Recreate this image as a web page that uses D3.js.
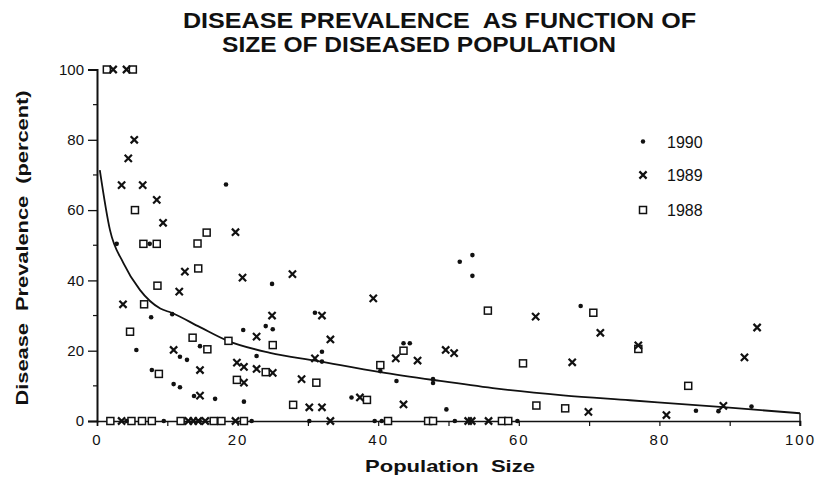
<!DOCTYPE html>
<html>
<head>
<meta charset="utf-8">
<script src="https://cdn.jsdelivr.net/npm/d3@7"></script>
<style>
  body { margin: 0; background: #fff; }
  svg text { fill: #111; }
</style>
</head>
<body>
<svg id="chart" width="822" height="480"></svg>
<script>
// ---- data -------------------------------------------------------------
// 1990 survey (dots)
const s1990X = [18.35, 2.8, 7.5, 7.7, 10.7, 20.8, 24.0, 25.0, 24.9, 5.6, 11.8, 12.8, 14.65, 22.7,
  7.8, 10.9, 11.8, 13.8, 16.8, 20.9, 31.0, 32.0, 32.0, 36.2, 40.3, 42.6, 43.6, 44.5, 47.8, 47.8,
  49.7, 51.6, 53.4, 53.4, 68.8, 85.2, 88.4, 93.1,
  4.2, 9.5, 14.6, 22.0, 30.2, 39.5, 40.5, 50.9, 59.8];
const s1990Y = [67.3, 50.4, 50.4, 29.5, 30.4, 25.9, 27.0, 26.1, 39.0, 20.2, 18.3, 17.4, 21.3, 18.5,
  14.5, 10.5, 9.6, 7.1, 6.3, 5.5, 30.8, 19.7, 16.9, 6.7, 14.2, 11.4, 22.1, 22.1, 11.9, 10.8,
  3.3, 45.3, 47.2, 41.3, 32.7, 2.9, 2.8, 4.1,
  0, 0, 0, 0, 0, 0, 0, 0, 0];

// 1989 survey (crosses)
const s1989X = [2.3, 4.2, 5.3, 4.45, 3.5, 6.5, 8.5, 9.4, 19.7, 12.5, 20.7, 11.7, 3.7,
  10.9, 22.7, 14.65, 19.9, 20.9, 22.7, 20.9, 14.65, 27.8, 39.3,
  24.9, 32.0, 33.2, 31.0, 25.0, 29.1, 30.2, 32.0, 37.4, 42.5, 45.6, 43.6,
  62.4, 71.6, 49.6, 50.8, 67.6, 69.9, 77.0, 93.9, 92.1, 89.1, 81.0,
  3.5, 13.0, 13.7, 14.4, 15.4, 19.7, 33.2, 52.8, 53.3, 55.7];
const s1989Y = [100, 100, 80, 74.7, 67.1, 67.1, 62.9, 56.4, 53.7, 42.5, 40.8, 36.8, 33.2,
  20.2, 24.0, 14.5, 16.6, 15.4, 14.8, 10.9, 7.2, 41.8, 34.9,
  30.0, 30.0, 23.2, 17.8, 13.7, 11.9, 3.9, 3.9, 6.7, 17.8, 17.2, 4.7,
  29.7, 25.1, 20.2, 19.3, 16.7, 2.6, 21.5, 26.6, 18.1, 4.3, 1.7,
  0, 0, 0, 0, 0, 0, 0, 0, 0, 0];

// 1988 survey (squares)
const s1988X = [1.4, 5.1, 5.4, 15.6, 6.6, 8.5, 14.3, 14.4, 8.6, 6.7,
  4.7, 13.6, 15.7, 18.7, 25.0, 8.8, 24.0, 19.9,
  31.2, 27.9, 38.4, 40.3, 43.6, 55.6, 70.6, 60.6, 62.5, 66.6, 77.0, 84.1,
  1.9, 4.9, 6.4, 7.8, 11.9, 16.6, 17.7, 20.9, 41.4, 47.1, 47.8, 57.6, 58.5];
const s1988Y = [100, 100, 60, 53.6, 50.4, 50.4, 50.5, 43.4, 38.5, 33.2,
  25.4, 23.7, 20.4, 22.8, 21.6, 13.4, 13.9, 11.7,
  10.9, 4.6, 6.0, 15.9, 20.0, 31.4, 30.8, 16.4, 4.4, 3.6, 20.5, 10.0,
  0, 0, 0, 0, 0, 0, 0, 0, 0, 0, 0, 0, 0];

// fitted trend curve, sampled along its length
const trendX = [0.4, 1.85, 3.74, 6.1, 9.0, 10.6, 14.65, 18.6, 24.6, 31.25, 40.3, 48.8, 56.9, 66.3, 75.8, 88.6, 100];
const trendY = [71.4, 54.3, 45.0, 37.3, 32.0, 30.8, 26.7, 22.8, 19.4, 17.1, 13.9, 11.4, 9.2, 7.3, 5.9, 4.0, 2.2];

const xTicks = [0, 20, 40, 60, 80, 100];
const yTicks = [0, 20, 40, 60, 80, 100];
const legendLabels = ["1990", "1989", "1988"];

// ---- drawing -----------------------------------------------------------
const svg = d3.select("#chart");
const x = d3.scaleLinear().domain([0, 100]).range([97, 800]);
const y = d3.scaleLinear().domain([0, 100]).range([421, 69.5]);

const FONT = "'Liberation Sans', Arial, Helvetica, sans-serif";

// title
svg.append("text").attr("x", 183).attr("y", 28)
  .attr("textLength", 513).attr("lengthAdjust", "spacingAndGlyphs")
  .style("font", `bold 22px ${FONT}`).style("white-space", "pre")
  .text("DISEASE PREVALENCE  AS FUNCTION OF");
svg.append("text").attr("x", 222).attr("y", 52)
  .attr("textLength", 394).attr("lengthAdjust", "spacingAndGlyphs")
  .style("font", `bold 22px ${FONT}`)
  .text("SIZE OF DISEASED POPULATION");

// y axis
const yAxis = d3.axisLeft(y).tickValues(yTicks).tickSize(9).tickPadding(4);
const gy = svg.append("g").attr("transform", `translate(${x(0)},0)`).call(yAxis);
gy.select(".domain").attr("stroke", "#111").attr("stroke-width", 2);
gy.selectAll(".tick line").attr("stroke", "#111").attr("stroke-width", 1.3);
gy.selectAll(".tick text").style("font", `15px ${FONT}`).attr("fill", "#111");
// minor ticks
svg.append("g").selectAll("line").data(d3.range(10, 100, 20)).join("line")
  .attr("x1", x(0) - 4).attr("x2", x(0)).attr("y1", d => y(d)).attr("y2", d => y(d))
  .attr("stroke", "#111").attr("stroke-width", 1.2);

// x axis
const xAxis = d3.axisBottom(x).tickValues(d3.range(0, 101, 10)).tickSize(5).tickPadding(8)
  .tickFormat(d => xTicks.includes(d) ? d : "");
const gx = svg.append("g").attr("transform", `translate(0,${y(0)})`).call(xAxis);
gx.select(".domain").attr("stroke", "#111").attr("stroke-width", 1.6);
gx.selectAll(".tick line").attr("stroke", "#111").attr("stroke-width", 1.2);
gx.selectAll(".tick text").style("font", `15px ${FONT}`).style("letter-spacing", "2px").attr("fill", "#111");
// end tick at 100 rises above the axis
svg.append("line").attr("x1", x(100)).attr("x2", x(100)).attr("y1", y(0) - 8).attr("y2", y(0) + 5)
  .attr("stroke", "#111").attr("stroke-width", 1.4);

// axis titles
svg.append("text").attr("x", 450).attr("y", 472).attr("text-anchor", "middle")
  .attr("textLength", 170).attr("lengthAdjust", "spacingAndGlyphs")
  .style("font", `bold 17px ${FONT}`).style("white-space", "pre")
  .text("Population  Size");
svg.append("text").attr("transform", "translate(28,248) rotate(-90)").attr("text-anchor", "middle")
  .attr("textLength", 315).attr("lengthAdjust", "spacingAndGlyphs")
  .style("font", `bold 17px ${FONT}`).style("white-space", "pre")
  .text("Disease  Prevalence  (percent)");

// trend curve
const trend = trendX.map((v, i) => [v, trendY[i]]);
svg.append("path").datum(trend)
  .attr("d", d3.line().x(d => x(d[0])).y(d => y(d[1])).curve(d3.curveMonotoneX))
  .attr("fill", "none").attr("stroke", "#111").attr("stroke-width", 1.8);

// markers
const zip = (xs, ys) => xs.map((v, i) => [v, ys[i]]);
const marks = svg.append("g");

marks.append("g").selectAll("rect").data(zip(s1988X, s1988Y)).join("rect")
  .attr("x", d => x(d[0]) - 3.5).attr("y", d => y(d[1]) - 3.5)
  .attr("width", 7).attr("height", 7)
  .attr("fill", "#fff").attr("stroke", "#111").attr("stroke-width", 1.5);

const cross = (g, cx, cy, r) => g.append("path")
  .attr("d", `M${cx - r},${cy - r}L${cx + r},${cy + r}M${cx - r},${cy + r}L${cx + r},${cy - r}`)
  .attr("stroke", "#111").attr("stroke-width", 2.2).attr("fill", "none");
const gc = marks.append("g");
zip(s1989X, s1989Y).forEach(d => cross(gc, x(d[0]), y(d[1]), 3.6));

marks.append("g").selectAll("circle").data(zip(s1990X, s1990Y)).join("circle")
  .attr("cx", d => x(d[0])).attr("cy", d => y(d[1])).attr("r", 2.3)
  .attr("fill", "#111");

// legend
const lg = svg.append("g");
const legY = [141.5, 175, 210];
lg.append("circle").attr("cx", 643).attr("cy", legY[0]).attr("r", 2.2).attr("fill", "#111");
cross(lg, 643, legY[1], 3.6);
lg.append("rect").attr("x", 639.5).attr("y", legY[2] - 3.5).attr("width", 7).attr("height", 7)
  .attr("fill", "#fff").attr("stroke", "#111").attr("stroke-width", 1.5);
legendLabels.forEach((t, i) => lg.append("text").attr("x", 667).attr("y", legY[i] + 6)
  .style("font", `16px ${FONT}`).text(t));
</script>
</body>
</html>
